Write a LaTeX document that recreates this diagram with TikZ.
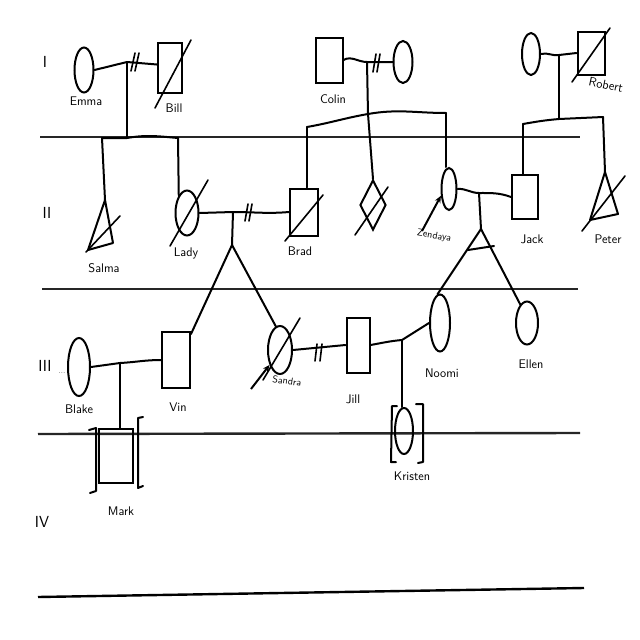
\documentclass[tikz,border=0pt]{standalone}
\usetikzlibrary{shapes.geometric,arrows.meta}
\begin{document}
\begin{tikzpicture}[x=1pt,y=-1pt,
  ln/.style={line width=2pt,line cap=round,line join=round},
  fem/.style={ellipse,draw,line width=2pt,inner sep=0pt},
  mal/.style={rectangle,draw,line width=2pt,inner sep=0pt},
  unk/.style={diamond,draw,line width=2pt,inner sep=0pt},
  lab/.style={font=\sffamily\fontsize{12.5}{14}\selectfont,inner sep=1pt},
  slab/.style={font=\sffamily\fontsize{10}{12}\selectfont,inner sep=1pt},
  gen/.style={font=\sffamily\fontsize{16}{18}\selectfont},
  genline/.style={line width=2.4pt,draw=black!85},
  dec/.style={line width=1.6pt,line cap=round},
  prob/.style={line width=2pt,-{Stealth[length=7pt,width=6pt]}}]
\useasboundingbox (0,0) rectangle (640,640);
% generation labels
\node[gen] (g1) at (45,62) {I};
\node[gen] (g2) at (47,213) {II};
\node[gen] (g3) at (45,366) {III};
\node[gen] (g4) at (42,522) {IV};
% generation lines
\coordinate (l1a) at (40,137); \coordinate (l1b) at (580,137);
\coordinate (l2a) at (42,289); \coordinate (l2b) at (578,289);
\coordinate (l3a) at (38,434); \coordinate (l3b) at (580,433);
\coordinate (l4a) at (38,597); \coordinate (l4b) at (584,588);
\draw[genline] (l1a) -- (l1b);
\draw[genline] (l2a) -- (l2b);
\draw[genline] (l3a) -- (l3b);
\draw[line width=2.4pt] (l4a) -- (l4b);

% ---------- Generation I ----------
\node[fem,minimum width=19pt,minimum height=45pt] (emma) at (84,70) {};
\node[lab] (emmaL) at (86,101) {Emma};
\node[mal,minimum width=24pt,minimum height=50pt] (bill) at (170,68) {};
\draw[dec] (155,108) -- (191,40);
\node[lab] (billL) at (174,108) {Bill};
\coordinate (m1) at (127,62);
\draw[ln] (emma.east) -- (m1) -- (bill.165);
\draw[dec] (131,71) -- (135,53) (135,71) -- (139,53);
\coordinate (s1) at (127,138);
\draw[ln] (m1) -- (s1);
\coordinate (s1a) at (102,138); \coordinate (s1b) at (178,138);
\draw[ln] (s1a) -- (s1) to[out=10,in=175] (s1b);

\node[mal,minimum width=27pt,minimum height=45pt] (colin) at (329,60) {};
\node[lab] (colinL) at (333,99) {Colin};
\node[fem,minimum width=19pt,minimum height=42pt] (cwife) at (403,62) {};
\coordinate (m2) at (367,62);
\draw[ln] (colin.east) to[out=30,in=180] (m2) -- (cwife.west);
\draw[dec] (373,72) -- (376,54) (377,72) -- (380,54);
\coordinate (s2) at (368,114);
\draw[ln] (m2) -- (s2);
\coordinate (s2a) at (307,127); \coordinate (s2b) at (446,113);
\draw[ln] (s2a) to[out=10,in=190] (s2) to[out=10,in=180] (s2b);

\node[fem,minimum width=18pt,minimum height=42pt] (rwife) at (531,54) {};
\node[mal,minimum width=27pt,minimum height=43pt] (robert) at (591,53) {};
\draw[dec] (572,82) -- (610,28);
\node[lab,rotate=-12] (robertL) at (606,85) {Robert};
\coordinate (m3) at (559,55);
\draw[ln] (rwife.east) to[out=15,in=190] (m3) -- (robert.west);
\coordinate (s3) at (559,119);
\draw[ln] (m3) -- (s3);
\coordinate (s3a) at (523,124); \coordinate (s3b) at (603,117);
\draw[ln] (s3a) to[out=10,in=185] (s3) -- (s3b);

% ---------- Generation II ----------
\coordinate (salA) at (105,200); \coordinate (salB) at (88,250); \coordinate (salC) at (113,243);
\draw[ln] (salA) -- (salB) -- (salC) -- cycle;
\draw[dec] (86,252) -- (120,216);
\node[lab] (salmaL) at (104,268) {Salma};
\draw[ln] (s1a) -- (salA);

\node[fem,minimum width=23pt,minimum height=45pt] (lady) at (187,213) {};
\draw[dec] (170,246) -- (208,180);
\node[lab] (ladyL) at (186,253) {Lady};
\draw[ln] (s1b) -- (lady.115);

\node[mal,minimum width=28pt,minimum height=47pt] (brad) at (304,212) {};
\draw[dec] (285,241) -- (323,195);
\node[lab] (bradL) at (300,251) {Brad};
\draw[ln] (s2a) -- (s2a |- brad.north);

\node[unk,minimum width=26pt,minimum height=50pt] (unkn) at (373,205) {};
\draw[dec] (355,235) -- (388,187);
\draw[ln] (s2) -- (unkn.north);

\node[fem,minimum width=15pt,minimum height=42pt] (zend) at (449,189) {};
\coordinate (zendP) at (422,231);
\draw[prob] (zendP) -- (zend.220);
\node[slab,rotate=-10] (zendL) at (434,236) {Zendaya};
\draw[ln] (s2b) -- (s2b |- zend.north);

\node[mal,minimum width=26pt,minimum height=44pt] (jack) at (525,197) {};
\node[lab] (jackL) at (532,239) {Jack};
\draw[ln] (s3a) -- (s3a |- jack.north);

\coordinate (petA) at (605,172); \coordinate (petB) at (590,220); \coordinate (petC) at (618,214);
\draw[ln] (petA) -- (petB) -- (petC) -- cycle;
\draw[dec] (582,231) -- (625,176);
\node[lab] (peterL) at (608,239) {Peter};
\draw[ln] (s3b) -- (petA);

% marriage Lady-Brad
\coordinate (m4) at (233,212);
\draw[ln] (lady.east) -- (m4) to[out=0,in=185] (brad.west);
\draw[dec] (245,221) -- (248,204) (249,221) -- (252,204);
\coordinate (f1) at (232,245);
\draw[ln] (m4) -- (f1);

% marriage Zendaya-Jack
\coordinate (m5) at (479,193);
\draw[ln] (zend.east) to[out=5,in=180] (m5) to[out=0,in=160] (jack.west);
\coordinate (f2) at (481,229);
\draw[ln] (m5) -- (f2);

% ---------- Generation III ----------
\node[fem,minimum width=22pt,minimum height=58pt] (blake) at (79,367) {};
\node[lab] (blakeL) at (79,409) {Blake};
\node[font=\scriptsize] (dots) at (62,373) {...};
\node[mal,minimum width=28pt,minimum height=56pt] (vin) at (176,360) {};
\node[lab] (vinL) at (178,407) {Vin};
\coordinate (m6) at (120,363);
\draw[ln] (blake.east) -- (m6) to[out=3,in=180] (vin.west);
\draw[ln] (f1) -- (vin.60);

\node[mal,minimum width=34pt,minimum height=54pt] (mark) at (116,456) {};
\node[lab] (markL) at (121,511) {Mark};
\draw[ln] (m6) -- (m6 |- mark.north);
\draw[ln] (89,430) -- (96,428) -- (96,491) -- (90,493);
\draw[ln] (143,417) -- (138,418) -- (138,488) -- (143,486);

\node[fem,minimum width=24pt,minimum height=48pt] (sandra) at (280,350) {};
\draw[dec] (263,380) -- (300,318);
\coordinate (sandP) at (251,389);
\draw[prob] (sandP) -- (sandra.235);
\node[slab,rotate=-8] (sandraL) at (287,381) {Sandra};
\draw[ln] (f1) -- (sandra.100);

\node[mal,minimum width=23pt,minimum height=55pt] (jill) at (358,345) {};
\node[lab] (jillL) at (353,399) {Jill};
\draw[ln] (sandra.east) -- (jill.west);
\draw[dec] (315,361) -- (317,344) (320,361) -- (322,344);

\node[fem,minimum width=20pt,minimum height=57pt] (noomi) at (440,323) {};
\node[lab] (noomiL) at (442,373) {Noomi};
\coordinate (m8) at (402,340);
\draw[ln] (jill.east) to[out=10,in=185] (m8) -- (noomi.west);

\node[fem,minimum width=22pt,minimum height=43pt] (ellen) at (527,323) {};
\node[lab] (ellenL) at (531,364) {Ellen};

\draw[ln] (f2) -- (noomi.95);
\draw[ln] (f2) -- (ellen.110);
\draw[ln] (468,250) -- (494,246);

\node[fem,minimum width=18pt,minimum height=46pt] (kris) at (404,431) {};
\node[lab] (krisL) at (412,476) {Kristen};
\draw[ln] (m8) -- (m8 |- kris.north);
\draw[ln] (397,406) -- (392,406) -- (391,462) -- (396,462);
\draw[ln] (416,404) -- (423,404) -- (423,462) -- (418,463);
\end{tikzpicture}
\end{document}
